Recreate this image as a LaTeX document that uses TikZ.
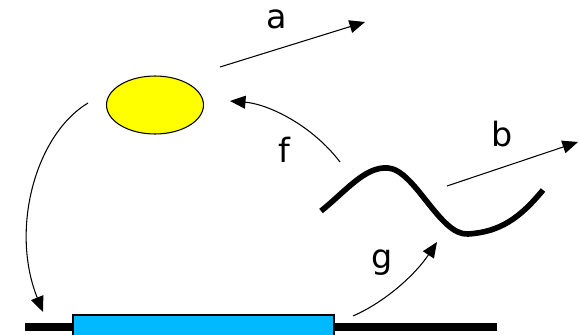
\documentclass[tikz,border=0pt]{standalone}
\usepackage{fontspec}
\setmainfont{DejaVu Sans}
\usetikzlibrary{arrows.meta,shapes.geometric}
\tikzset{
  flowln/.style={-{Triangle[length=3.1mm,width=2.6mm]}, line width=0.6pt},
  waveln/.style={line width=3.2pt, line join=round},
  dnaln/.style={line width=4pt},
  lbl/.style={font=\fontsize{19}{22}\selectfont, inner sep=0pt},
}
\definecolor{protcolor}{RGB}{255,255,0}
\definecolor{genecolor}{RGB}{0,185,255}

\begin{document}
\begin{tikzpicture}[x=0.02cm, y=-0.02cm]
    \useasboundingbox (0,0) rectangle (579,335);
    % gene on the strand
    \draw[dnaln] (25,327) -- (497,327);
    \node[draw, fill=genecolor, line width=0.6pt, minimum width=5.22cm,
      minimum height=0.48cm, inner sep=0pt] (gene) at (203.5,327) {};
    % protein
    \node[ellipse, draw, fill=protcolor, line width=0.6pt, minimum width=1.94cm,
      minimum height=1.16cm, inner sep=0pt] (prot) at (155,105) {};
    % transcript
    \coordinate (mrnaA) at (321,211);
    \coordinate (mrnaB) at (543,190);
    \draw[waveln] (mrnaA) .. controls (345,192) and (365,166) .. (388,168)
      .. controls (415,170) and (440,236) .. (468,234)
      .. controls (500,232) and (520,218) .. (mrnaB);
    % arrow ends
    \coordinate (protout) at (220,67);
    \coordinate (protgone) at (365,22);
    \coordinate (mrnaout) at (447,186);
    \coordinate (mrnagone) at (578,142);
    \coordinate (protleft) at (88,103);
    \coordinate (genein) at (43,312);
    \coordinate (geneout) at (353,316);
    \coordinate (mrnain) at (437,242);
    \coordinate (mrnatop) at (340,162);
    \coordinate (protin) at (230,101);
    \draw[flowln] (protout) -- (protgone);
    \draw[flowln] (mrnaout) -- (mrnagone);
    \draw[flowln] (protleft) .. controls (35,135) and (10,230) .. (genein);
    \draw[flowln] (geneout) .. controls (385,302) and (415,275) .. (mrnain);
    \draw[flowln] (mrnatop) .. controls (312,125) and (268,104) .. (protin);
    % labels
    \node[lbl] (la) at (277,19) {a};
    \node[lbl] (lb) at (502,134) {b};
    \node[lbl] (lf) at (284,150) {f};
    \node[lbl] (lg) at (382,263) {g};
\end{tikzpicture}
\end{document}
